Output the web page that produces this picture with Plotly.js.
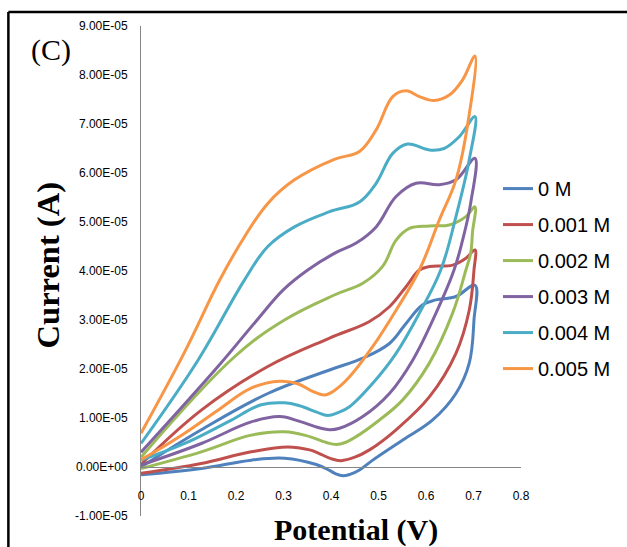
<!DOCTYPE html>
<html><head><meta charset="utf-8">
<script src="https://cdn.plot.ly/plotly-3.0.1.min.js"></script>
<style>html,body{margin:0;padding:0;background:#fff;}#chart{width:627px;height:547px;}</style>
</head><body><div id="chart"></div>
<script>
// Potential (V) and current (A) of each cyclic voltammogram: forward scan 0 -> 0.7 V, then reverse 0.7 -> 0 V
const potential_0M = [0, 0.127, 0.267, 0.397, 0.467, 0.523, 0.558, 0.593, 0.621, 0.663, 0.703,
  0.701, 0.691, 0.663, 0.614, 0.551, 0.488, 0.460, 0.440, 0.425, 0.410, 0.397, 0.369, 0.302, 0.232, 0.127, 0];
const current_0M = [0.0e-5, 0.76e-5, 1.50e-5, 1.98e-5, 2.22e-5, 2.52e-5, 2.93e-5, 3.31e-5, 3.41e-5, 3.48e-5, 3.71e-5,
  3.00e-5, 2.12e-5, 1.50e-5, 0.96e-5, 0.55e-5, 0.14e-5, -0.06e-5, -0.15e-5, -0.18e-5, -0.14e-5, -0.07e-5, 0.05e-5, 0.18e-5, 0.14e-5, -0.03e-5, -0.16e-5];

const potential_001M = [0, 0.127, 0.267, 0.397, 0.481, 0.523, 0.558, 0.586, 0.607, 0.656, 0.684, 0.703,
  0.701, 0.691, 0.663, 0.607, 0.537, 0.481, 0.450, 0.421, 0.400, 0.372, 0.355, 0.309, 0.232, 0.127, 0];
const current_001M = [0.05e-5, 1.16e-5, 2.05e-5, 2.63e-5, 2.97e-5, 3.27e-5, 3.68e-5, 4.02e-5, 4.09e-5, 4.12e-5, 4.26e-5, 4.43e-5,
  4.02e-5, 3.20e-5, 2.32e-5, 1.43e-5, 0.76e-5, 0.35e-5, 0.20e-5, 0.13e-5, 0.17e-5, 0.29e-5, 0.35e-5, 0.41e-5, 0.31e-5, 0.07e-5, -0.13e-5];

const potential_002M = [0, 0.197, 0.302, 0.407, 0.467, 0.509, 0.537, 0.565, 0.607, 0.649, 0.684, 0.703,
  0.698, 0.694, 0.684, 0.656, 0.607, 0.551, 0.502, 0.453, 0.430, 0.411, 0.390, 0.348, 0.302, 0.232, 0.127, 0];
const current_002M = [0.20e-5, 2.25e-5, 3.00e-5, 3.51e-5, 3.75e-5, 4.10e-5, 4.63e-5, 4.87e-5, 4.92e-5, 4.94e-5, 5.11e-5, 5.31e-5,
  4.80e-5, 4.36e-5, 4.02e-5, 3.14e-5, 2.12e-5, 1.37e-5, 0.96e-5, 0.62e-5, 0.50e-5, 0.46e-5, 0.50e-5, 0.64e-5, 0.72e-5, 0.65e-5, 0.31e-5, -0.03e-5];

const potential_003M = [0, 0.162, 0.240, 0.300, 0.351, 0.407, 0.453, 0.495, 0.537, 0.579, 0.628, 0.663, 0.703,
  0.694, 0.677, 0.659, 0.621, 0.572, 0.523, 0.467, 0.418, 0.397, 0.375, 0.334, 0.292, 0.232, 0.127, 0];
const current_003M = [0.30e-5, 2.05e-5, 2.95e-5, 3.62e-5, 4.02e-5, 4.36e-5, 4.57e-5, 4.90e-5, 5.52e-5, 5.79e-5, 5.76e-5, 5.86e-5, 6.30e-5,
  5.38e-5, 4.63e-5, 4.02e-5, 3.14e-5, 2.18e-5, 1.50e-5, 1.03e-5, 0.79e-5, 0.76e-5, 0.80e-5, 0.93e-5, 1.03e-5, 0.92e-5, 0.48e-5, 0.04e-5];

const potential_004M = [0, 0.120, 0.218, 0.267, 0.323, 0.397, 0.460, 0.495, 0.530, 0.561, 0.607, 0.638, 0.670, 0.703,
  0.691, 0.663, 0.631, 0.586, 0.537, 0.488, 0.439, 0.415, 0.393, 0.370, 0.334, 0.302, 0.253, 0.183, 0.092, 0];
const current_004M = [0.48e-5, 2.18e-5, 3.82e-5, 4.50e-5, 4.90e-5, 5.21e-5, 5.41e-5, 5.79e-5, 6.40e-5, 6.59e-5, 6.47e-5, 6.50e-5, 6.74e-5, 7.15e-5,
  6.27e-5, 5.11e-5, 4.02e-5, 3.14e-5, 2.32e-5, 1.71e-5, 1.23e-5, 1.11e-5, 1.05e-5, 1.12e-5, 1.25e-5, 1.31e-5, 1.27e-5, 0.92e-5, 0.48e-5, 0.14e-5];

const potential_005M = [0, 0.092, 0.166, 0.218, 0.267, 0.323, 0.407, 0.460, 0.495, 0.530, 0.558, 0.586, 0.617, 0.649, 0.677, 0.703,
  0.687, 0.663, 0.628, 0.586, 0.537, 0.488, 0.439, 0.410, 0.386, 0.360, 0.330, 0.292, 0.232, 0.162, 0.092, 0.029, 0];
const current_005M = [0.69e-5, 2.35e-5, 3.82e-5, 4.70e-5, 5.38e-5, 5.86e-5, 6.28e-5, 6.44e-5, 6.88e-5, 7.56e-5, 7.68e-5, 7.56e-5, 7.48e-5, 7.59e-5, 7.90e-5, 8.39e-5,
  6.95e-5, 5.86e-5, 5.04e-5, 4.02e-5, 3.20e-5, 2.46e-5, 1.84e-5, 1.58e-5, 1.47e-5, 1.55e-5, 1.70e-5, 1.75e-5, 1.61e-5, 1.16e-5, 0.69e-5, 0.31e-5, 0.15e-5];

const seriesNames = ['0 M', '0.001 M', '0.002 M', '0.003 M', '0.004 M', '0.005 M'];
const seriesColors = ['#4F81BD', '#C0504D', '#9BBB59', '#8064A2', '#4BACC6', '#F79646'];
const seriesX = [potential_0M, potential_001M, potential_002M, potential_003M, potential_004M, potential_005M];
const seriesY = [current_0M, current_001M, current_002M, current_003M, current_004M, current_005M];

const xTickVals = [0, 0.1, 0.2, 0.3, 0.4, 0.5, 0.6, 0.7, 0.8];
const xTickText = ['0', '0.1', '0.2', '0.3', '0.4', '0.5', '0.6', '0.7', '0.8'];
const yTickVals = [-1e-5, 0, 1e-5, 2e-5, 3e-5, 4e-5, 5e-5, 6e-5, 7e-5, 8e-5, 9e-5];
const yTickText = ['-1.00E-05', '0.00E+00', '1.00E-05', '2.00E-05', '3.00E-05', '4.00E-05', '5.00E-05', '6.00E-05', '7.00E-05', '8.00E-05', '9.00E-05'];

const traces = seriesNames.map((name, i) => ({
  type: 'scatter', mode: 'lines', name: name,
  x: seriesX[i], y: seriesY[i],
  legendgroup: 'g' + i,
  line: {color: seriesColors[i], width: 3, shape: 'spline', smoothing: 1.1},
  hoverinfo: 'x+y+name'
}));

const sans = '"Liberation Sans", Arial, sans-serif';
const serif = '"Liberation Serif", "Times New Roman", serif';

const layout = {
  width: 627, height: 547,
  margin: {l: 141, r: 105, t: 26, b: 31},
  paper_bgcolor: '#ffffff', plot_bgcolor: '#ffffff',
  showlegend: true,
  legend: {
    x: 0.937, xanchor: 'left', y: 0.708, yanchor: 'top',
    font: {family: sans, size: 20, color: '#000'},
    tracegroupgap: 7.0, itemwidth: 30, bgcolor: 'rgba(0,0,0,0)'
  },
  xaxis: {
    range: [0, 0.8], anchor: 'free', position: 0.1,
    tickvals: xTickVals, ticktext: xTickText,
    showline: true, linecolor: '#868686', linewidth: 1,
    showgrid: false, zeroline: false, ticks: '',
    ticklabelstandoff: 18,
    tickfont: {family: sans, size: 12, color: '#000'}
  },
  yaxis: {
    range: [-1e-5, 9e-5],
    tickvals: yTickVals, ticktext: yTickText,
    showline: true, linecolor: '#868686', linewidth: 1,
    showgrid: false, zeroline: false, ticks: '',
    ticklabelstandoff: 10,
    tickfont: {family: sans, size: 12, color: '#000'}
  },
  annotations: [
    {text: '(C)', xref: 'paper', yref: 'paper', x: -0.236, y: 0.951, xanchor: 'center', yanchor: 'middle', showarrow: false,
     font: {family: serif, size: 30, color: '#000'}},
    {text: '<b>Current (A)</b>', xref: 'paper', yref: 'paper', x: -0.244, y: 0.512, xanchor: 'center', yanchor: 'middle', showarrow: false,
     textangle: -90, font: {family: serif, size: 32.5, color: '#000'}},
    {text: '<b>Potential (V)</b>', xref: 'paper', yref: 'paper', x: 0.567, y: -0.0286, xanchor: 'center', yanchor: 'middle', showarrow: false,
     font: {family: serif, size: 30, color: '#000'}}
  ],
  shapes: [
    {type: 'line', xref: 'paper', yref: 'paper', x0: -0.349, x1: 1.28, y0: 1.0286, y1: 1.0286, line: {color: '#000', width: 2.5}},
    {type: 'line', xref: 'paper', yref: 'paper', x0: -0.349, x1: -0.349, y0: 1.0286, y1: -0.07, line: {color: '#000', width: 2.5}}
  ]
};

Plotly.newPlot('chart', traces, layout, {displayModeBar: false, responsive: false});
</script>
</body></html>
